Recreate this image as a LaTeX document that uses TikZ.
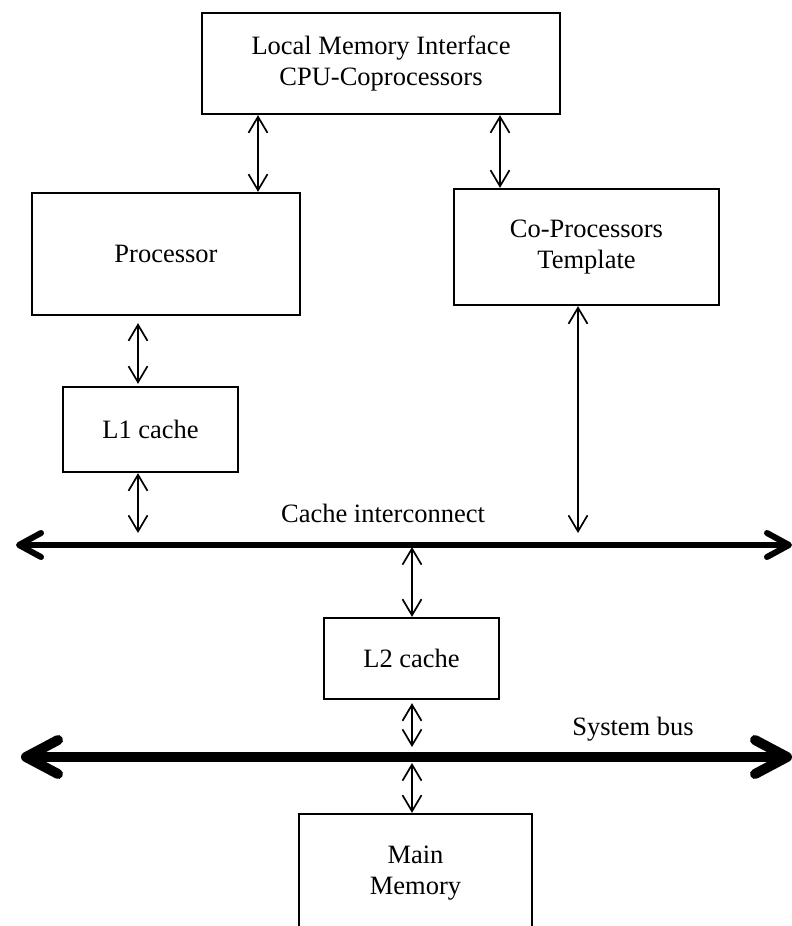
\documentclass[tikz,border=0pt]{standalone}
\usepackage{fontspec}
\setmainfont{Liberation Serif}
\usetikzlibrary{arrows.meta}

\tikzset{
  block/.style={draw, line width=2.3pt, inner sep=0pt, align=center,
    font=\fontsize{26.5}{30.5}\selectfont},
  link/.style={line width=1.7pt,
    arrows={Straight Barb[length=16pt,width=19pt]-Straight Barb[length=16pt,width=19pt]}},
  cachebus/.style={line width=6pt, line cap=round,
    arrows={Straight Barb[length=22pt,width=24pt,line cap=round,line join=round]-Straight Barb[length=22pt,width=24pt,line cap=round,line join=round]}},
  sysbus/.style={line width=10pt, line cap=round,
    arrows={Straight Barb[length=32pt,width=34pt,line cap=round,line join=round]-Straight Barb[length=32pt,width=34pt,line cap=round,line join=round]}},
  buslabel/.style={anchor=base, inner sep=0pt, font=\fontsize{26.5}{30.5}\selectfont},
}

\begin{document}
\begin{tikzpicture}[x=1pt, y=-1pt]
  \clip (0,0) rectangle (792,926);

  % functional blocks
  \node[block, minimum width=358pt, minimum height=101pt] (lmi) at (381,63.5)
    {Local Memory Interface\\CPU-Coprocessors};
  \node[block, minimum width=268pt, minimum height=122pt] (proc) at (166,254) {Processor};
  \node[block, minimum width=265pt, minimum height=116pt] (cop) at (586.5,247)
    {Co-Processors\\Template};
  \node[block, minimum width=175pt, minimum height=85pt] (l1) at (150.5,429.5) {L1 cache};
  \node[block, minimum width=175pt, minimum height=81pt] (l2) at (411.5,658.5) {L2 cache};
  \node[block, minimum width=233pt, minimum height=118pt] (mem) at (415.5,873)
    {Main\\Memory};

  % bus end points
  \coordinate (cbL) at (16,545);
  \coordinate (cbR) at (792,545);
  \coordinate (sbL) at (21,757);
  \coordinate (sbR) at (792,757);

  % columns of the vertical links
  \coordinate (xa) at (258,0);
  \coordinate (xb) at (500,0);
  \coordinate (xc) at (138,0);
  \coordinate (xd) at (578,0);
  \coordinate (xe) at (412,0);

  % buses
  \draw[cachebus] (cbL) -- (cbR);
  \draw[sysbus] (sbL) -- (sbR);
  \node[buslabel] (cblabel) at (383,522) {Cache interconnect};
  \node[buslabel] (sblabel) at (633,735) {System bus};

  % links between blocks and buses
  \draw[link] (lmi.south -| xa) -- (proc.north -| xa);
  \draw[link] (lmi.south -| xb) -- (cop.north -| xb);
  \draw[link, shorten <=7pt, shorten >=2pt] (proc.south -| xc) -- (l1.north -| xc);
  \draw[link, shorten >=12pt] (l1.south -| xc) -- (cbL -| xc);
  \draw[link, shorten >=12pt] (cop.south -| xd) -- (cbL -| xd);
  \draw[link, shorten <=2pt] (cbL -| xe) -- (l2.north -| xe);
  \draw[link, shorten <=3pt, shorten >=10pt] (l2.south -| xe) -- (sbL -| xe);
  \draw[link, shorten <=6pt] (sbL -| xe) -- (mem.north -| xe);
\end{tikzpicture}
\end{document}
